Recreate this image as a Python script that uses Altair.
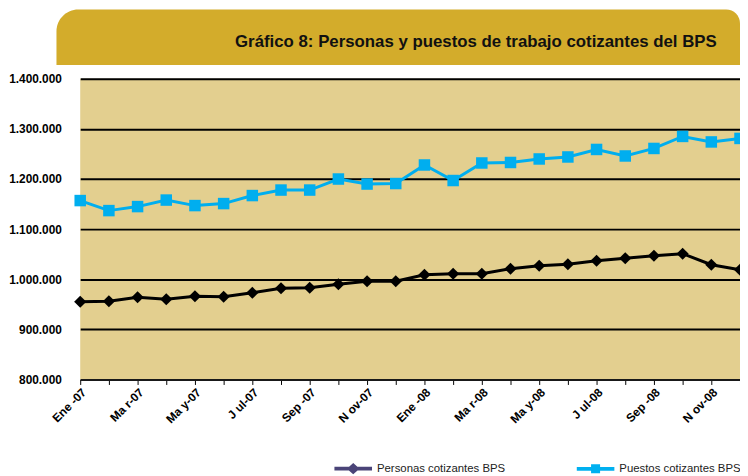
import altair as alt
import pandas as pd

# ---- data ----
meses = ["Ene -07", "Feb-07", "Ma r-07", "Abr-07", "Ma y-07", "Jun-07",
         "J ul-07", "Ago-07", "Sep -07", "Oct-07", "N ov-07", "Dic-07",
         "Ene -08", "Feb-08", "Ma r-08", "Abr-08", "Ma y-08", "Jun-08",
         "J ul-08", "Ago-08", "Sep -08", "Oct-08", "N ov-08", "Dic-08"]

personas = [955000, 956000, 964000, 960000, 966000, 965000,
            973000, 982000, 983000, 990000, 996000, 996000,
            1009000, 1011000, 1011000, 1021000, 1027000, 1030000,
            1037000, 1042000, 1047000, 1051000, 1029000, 1019000]

puestos = [1157000, 1137000, 1145000, 1158000, 1147000, 1151000,
           1167000, 1178000, 1178000, 1200000, 1190000, 1191000,
           1228000, 1197000, 1232000, 1233000, 1240000, 1244000,
           1259000, 1246000, 1261000, 1285000, 1274000, 1281000]

series = ["Personas cotizantes BPS", "Puestos cotizantes BPS"]
titulo = "Gráfico 8: Personas y puestos de trabajo cotizantes del BPS"
y_ticks = [800000, 900000, 1000000, 1100000, 1200000, 1300000, 1400000]

rows = []
for i, m in enumerate(meses):
    rows.append({"idx": i, "mes": m, "serie": series[0], "valor": personas[i]})
    rows.append({"idx": i, "mes": m, "serie": series[1], "valor": puestos[i]})
df = pd.DataFrame(rows)

FONT = "Liberation Sans"
labels_js = "[" + ",".join("'" + m + "'" for m in meses) + "]"

x_enc = alt.X(
    "idx:Q",
    scale=alt.Scale(domain=[0, len(meses) - 1], nice=False, zero=False),
    axis=alt.Axis(
        values=list(range(len(meses))),
        labelExpr="datum.value % 2 == 0 ? " + labels_js + "[datum.value] : ''",
        labelAngle=-45, labelFont=FONT, labelFontSize=12, labelFontWeight="bold",
        labelColor="#000", labelPadding=2, labelOverlap=False, labelFlush=False,
        tickSize=5, tickColor="#000", tickWidth=1,
        domainColor="#222", domainWidth=1.5, grid=False, title=None,
    ),
)
y_enc = alt.Y(
    "valor:Q",
    scale=alt.Scale(domain=[800000, 1400000], nice=False, zero=False),
    axis=alt.Axis(
        values=y_ticks,
        labelExpr="replace(replace(format(datum.value, ',.0f'), ',', '.'), ',', '.')",
        labelFont=FONT, labelFontSize=12, labelFontWeight="bold", labelColor="#000",
        labelPadding=19, ticks=False, tickSize=0, domain=False,
        grid=True, gridColor="#000", gridWidth=2, title=None,
    ),
)

base = alt.Chart(df)

lines = base.mark_line(strokeWidth=3).encode(
    x=x_enc, y=y_enc,
    stroke=alt.Stroke("serie:N", scale=alt.Scale(domain=series, range=["#000000", "#00AEEF"]), legend=None),
)

diamonds = base.transform_filter(alt.datum.serie == series[0]).mark_point(
    shape="diamond", filled=True, size=150, color="#000000", opacity=1
).encode(x=x_enc, y=y_enc)

squares = base.transform_filter(alt.datum.serie == series[1]).mark_square(
    size=135, color="#00AEEF", opacity=1
).encode(x=x_enc, y=y_enc)

legend_paths = [
    "M-1,-0.1L1,-0.1L1,0.1L-1,0.1Z M0,-0.3L0.34,0L0,0.3L-0.34,0Z",
    "M-1,-0.1L1,-0.1L1,0.1L-1,0.1Z M-0.24,-0.24L0.24,-0.24L0.24,0.24L-0.24,0.24Z",
]
# legend-only layer: no marks drawn (explicit scale domains keep both entries)
legend_layer = base.transform_filter("false").mark_point(filled=True, size=1444, opacity=1).encode(
    x=x_enc, y=y_enc,
    color=alt.Color("serie:N", scale=alt.Scale(domain=series, range=["#4A4478", "#00B0F0"]),
                    legend=alt.Legend(
                        title=None, orient="none", legendX=257, legendY=375,
                        direction="horizontal", symbolSize=1444, symbolOpacity=1,
                        symbolStrokeWidth=0, labelFont=FONT, labelFontSize=11.5,
                        labelColor="#222", labelOffset=5, columnPadding=72, padding=0,
                    )),
    shape=alt.Shape("serie:N", scale=alt.Scale(domain=series, range=legend_paths)),
)

tdf = pd.DataFrame({"t": [titulo]})
band = alt.Chart(tdf).mark_rect(
    color="#D3AC2B", cornerRadiusTopLeft=22, cornerRadiusTopRight=14
).encode(x=alt.value(-24), x2=alt.value(667), y=alt.value(-70), y2=alt.value(-14))

title_txt = alt.Chart(tdf).mark_text(
    font=FONT, fontSize=17, fontWeight="bold", color="#111", align="center", baseline="middle"
).encode(x=alt.value(400), y=alt.value(-37), text="t:N")

chart = alt.layer(band, title_txt, lines, diamonds, squares, legend_layer).resolve_legend(
    color="independent", shape="independent"
).properties(
    width=667, height=304,
    padding={"left": 73, "top": 69, "right": 0, "bottom": 95},
    autosize=alt.AutoSizeParams(type="none"),
    background="#FFFFFF",
).configure_view(fill="#E3CF8F", stroke=None)

chart.save("out.html", embed_options={"renderer": "svg", "actions": False})
